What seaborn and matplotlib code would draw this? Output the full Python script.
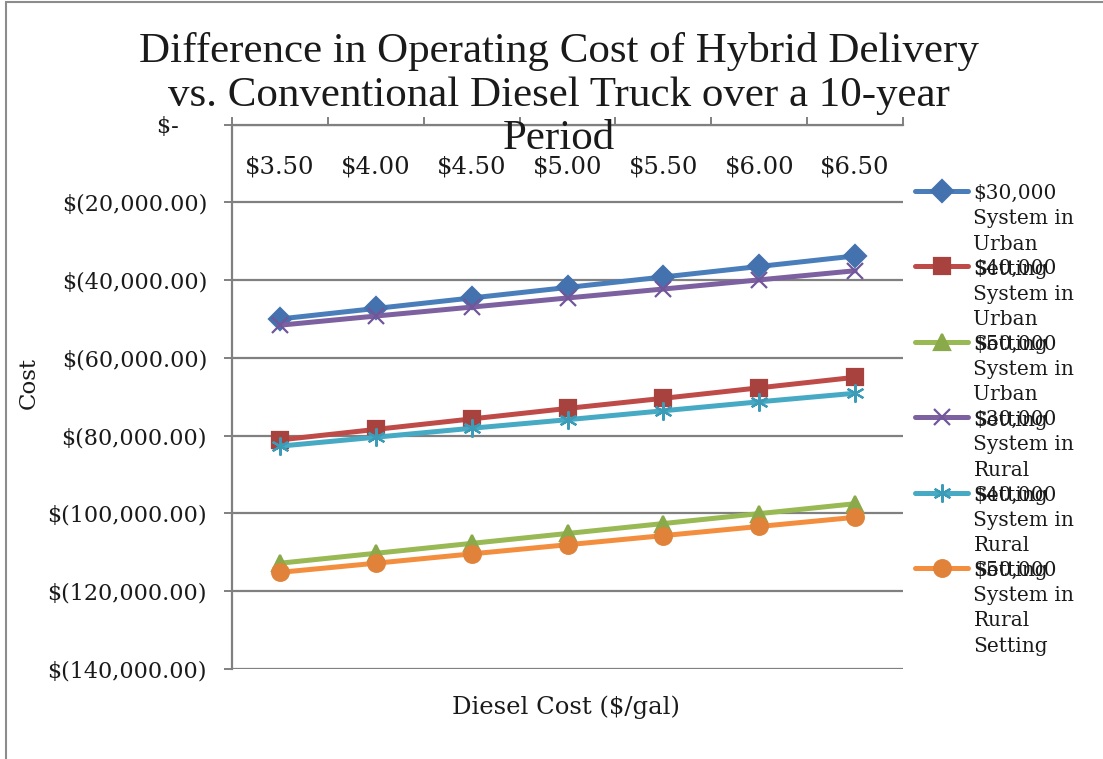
import matplotlib
matplotlib.use("Agg")
import matplotlib.pyplot as plt
import matplotlib.ticker as mticker
from matplotlib.patches import Rectangle
import seaborn as sns
import numpy as np

# ---- data ----
diesel_prices = ["$3.50", "$4.00", "$4.50", "$5.00", "$5.50", "$6.00", "$6.50"]
series_names = [
    "$30,000\nSystem in\nUrban\nSetting",
    "$40,000\nSystem in\nUrban\nSetting",
    "$50,000\nSystem in\nUrban\nSetting",
    "$30,000\nSystem in\nRural\nSetting",
    "$40,000\nSystem in\nRural\nSetting",
    "$50,000\nSystem in\nRural\nSetting",
]
urban_30k = [-50000, -47300, -44600, -41900, -39200, -36500, -33800]
urban_40k = [-81100, -78400, -75700, -73000, -70400, -67700, -65000]
urban_50k = [-112800, -110250, -107700, -105150, -102600, -100050, -97500]
rural_30k = [-51600, -49250, -46950, -44600, -42300, -39950, -37600]
rural_40k = [-82700, -80400, -78100, -75900, -73600, -71300, -69100]
rural_50k = [-115150, -112800, -110400, -108050, -105700, -103350, -101000]
series_values = [urban_30k, urban_40k, urban_50k, rural_30k, rural_40k, rural_50k]

line_colors = ["#4A7EBB", "#BE4B48", "#98B954", "#7D60A0", "#46AAC5", "#F38E3F"]
marker_colors = ["#4372AF", "#A8423F", "#8AA94A", "#71569A", "#3C9CB8", "#E0823A"]
markers = ["D", "s", "^", "x", (6, 2, 0), "o"]
marker_sizes = [11, 11, 11, 11, 13, 12]

sns.set_theme(style="white")
plt.rcParams["font.family"] = ["DejaVu Serif"]

fig = plt.figure(figsize=(11.03, 7.59), dpi=100)
W, H = 1103, 759
ax = fig.add_axes([232 / W, 1 - 669 / H, (903 - 232) / W, (669 - 124.5) / H])

x_idx = np.arange(len(diesel_prices))
for name, vals, lc, mc, mk, ms in zip(series_names, series_values, line_colors,
                                      marker_colors, markers, marker_sizes):
    sns.lineplot(x=x_idx, y=vals, ax=ax, color=lc, linewidth=3.6, marker=mk,
                 markersize=ms, markerfacecolor=mc, markeredgecolor=mc,
                 markeredgewidth=1.6, label=name, legend=False, sort=False)

ax.set_xlim(-0.5, len(diesel_prices) - 0.5)
ax.set_ylim(-140000, 0)

grid_c = "#808080"
ax.set_yticks(np.arange(-140000, 1, 20000))
def yfmt(v, pos):
    if v == 0:
        return "$-    "
    return "$({:,.2f})".format(abs(v))
ax.yaxis.set_major_formatter(mticker.FuncFormatter(yfmt))
ax.yaxis.grid(True, color=grid_c, linewidth=1.6)
ax.xaxis.grid(False)
ax.tick_params(axis="y", which="major", left=True, direction="out", length=6,
               width=1.4, color=grid_c, labelsize=16, pad=12, labelcolor="#1a1a1a")

ax.set_xticks(x_idx)
ax.set_xticklabels(diesel_prices)
ax.set_xticks(np.arange(-0.5, len(diesel_prices)), minor=True)
ax.tick_params(axis="x", which="major", top=True, labeltop=True, bottom=False,
               labelbottom=False, length=0, pad=-39, labelsize=17.5, labelcolor="#1a1a1a")
ax.tick_params(axis="x", which="minor", top=True, bottom=False, direction="out",
               length=6, width=1.4, color=grid_c)

for s in ["right", "bottom"]:
    ax.spines[s].set_visible(False)
for s in ["left", "top"]:
    ax.spines[s].set_color(grid_c)
    ax.spines[s].set_linewidth(1.6)

ax.set_xlabel("Diesel Cost ($/gal)", fontsize=17.5, color="#1a1a1a")
ax.xaxis.set_label_coords(0.498, -0.048)
ax.set_ylabel("Cost", fontsize=16.5, color="#1a1a1a")
ax.yaxis.set_label_coords(-0.287, 0.525)

fig.text(559 / W, 1 - 32 / H,
         "Difference in Operating Cost of Hybrid Delivery\n"
         "vs. Conventional Diesel Truck over a 10-year\nPeriod",
         ha="center", va="top", fontsize=31, family="Liberation Serif",
         linespacing=1.17, color="#1a1a1a")

handles, labels = ax.get_legend_handles_labels()
leg = fig.legend(handles, labels, loc="upper left",
                 bbox_to_anchor=(915 / W, 1 - 184 / H), frameon=False,
                 borderpad=0, borderaxespad=0, handlelength=2.65,
                 handletextpad=0.25, labelspacing=-0.97,
                 prop={"family": "DejaVu Serif", "size": 14.5})
for t in leg.get_texts():
    t.set_linespacing(1.42)
    t.set_color("#1a1a1a")
for col in leg._legend_handle_box.get_children():
    for hp in col.get_children():
        hp.align = "top"

fig.patches.append(Rectangle((6 / W, -0.1), 1.2, 1 - 2 / H + 0.1,
                             transform=fig.transFigure, fill=False,
                             edgecolor="#8c8c8c", linewidth=1.5))

fig.savefig("out.png", dpi=100, facecolor="white")
